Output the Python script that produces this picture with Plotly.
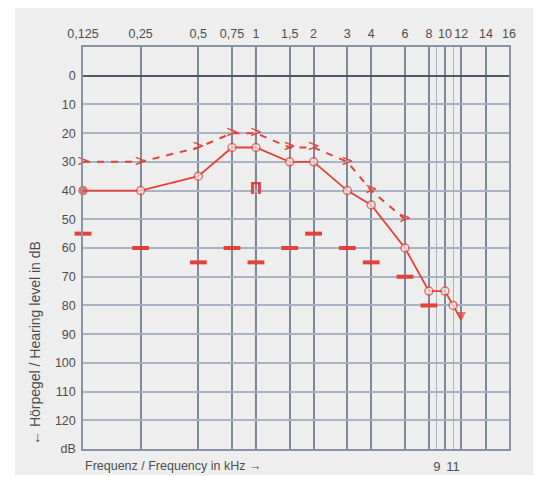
import numpy as np
import plotly.graph_objects as go

# ---------------- data ----------------
freq_ticks = [0.125, 0.25, 0.5, 0.75, 1, 1.5, 2, 3, 4, 6, 8, 10, 12, 14, 16]
freq_tick_text = ["0,125", "0,25", "0,5", "0,75", "1", "1,5", "2", "3", "4", "6",
                  "8", "10", "12", "14", "16"]
freq_ticks_bottom = [9, 11]
freq_tick_text_bottom = ["9", "11"]
db_ticks = list(range(0, 131, 10))
db_tick_text = [str(v) for v in range(0, 121, 10)] + ["dB"]

air_freq = [0.125, 0.25, 0.5, 0.75, 1, 1.5, 2, 3, 4, 6, 8, 10, 11, 12]
air_db = [40, 40, 35, 25, 25, 30, 30, 40, 45, 60, 75, 75, 80, 85]

bone_freq = [0.125, 0.25, 0.5, 0.75, 1, 1.5, 2, 3, 4, 6]
bone_db = [30, 30, 25, 20, 20, 25, 25, 30, 40, 50]

mask_freq = [0.125, 0.25, 0.5, 0.75, 1, 1.5, 2, 3, 4, 6, 8]
mask_db = [55, 60, 65, 60, 65, 60, 55, 60, 65, 70, 80]

extra_freq = [1]
extra_db = [40]

# ---------------- audiogram frequency scale ----------------
# octaves above 125 Hz up to 8 kHz, compressed linear scale above 8 kHz
HF_KNOTS = [8, 12, 14, 16]
HF_POS = [6.0, 6.56, 6.99, 7.39]


def fscale(f):
    f = np.asarray(f, dtype=float)
    return np.where(f <= 8, np.log2(np.maximum(f, 1e-9) / 0.125),
                    np.interp(f, HF_KNOTS, HF_POS))


RED = "#e3423a"
TXT = "#4d4d4d"
FONT = "Liberation Sans"
BG = "#eeeeee"

# page is offset by the 8px body margin
OFF = 8
W, H = 541 - OFF, 477 - OFF
ML, MT = 83 - OFF, 47 - OFF
MR = W - (509 - OFF)
MB = H - (449 - OFF)
PW, PH = W - ML - MR, H - MT - MB


def pxx(px):  # page pixel -> paper x
    return (px - OFF - ML) / PW


def pxy(py):  # page pixel -> paper y
    return (H - MB - (py - OFF)) / PH


fig = go.Figure()

# masking symbols
fig.add_trace(go.Scatter(
    x=fscale(mask_freq), y=mask_db, mode="markers",
    marker=dict(symbol="line-ew", size=12, line=dict(color=RED, width=4)),
    cliponaxis=False, showlegend=False, hoverinfo="skip"))
fig.add_trace(go.Scatter(
    x=fscale(extra_freq), y=extra_db, mode="text", text=["<b>Π</b>"],
    textfont=dict(family="DejaVu Sans", size=15, color=RED),
    cliponaxis=False, showlegend=False, hoverinfo="skip"))

# bone / dashed line with '>' symbols
fig.add_trace(go.Scatter(
    x=fscale(bone_freq), y=bone_db, mode="lines+text", text=[">"] * len(bone_freq),
    textposition="middle center",
    textfont=dict(family="DejaVu Sans", size=15, color=RED),
    line=dict(color=RED, width=2, dash="7px,7px"),
    cliponaxis=False, showlegend=False, hoverinfo="skip"))

# air conduction solid line with circles
symbols = ["circle"] + ["circle"] * (len(air_freq) - 2) + ["arrow-down"]
sizes = [8] * (len(air_freq) - 1) + [7]
fills = [RED] + [BG] * (len(air_freq) - 2) + [RED]
fig.add_trace(go.Scatter(
    x=fscale(air_freq), y=air_db, mode="lines+markers",
    line=dict(color=RED, width=1.8),
    marker=dict(symbol=symbols, size=sizes, color=fills, line=dict(color=RED, width=1.5)),
    cliponaxis=False, showlegend=False, hoverinfo="skip"))

xr = [float(fscale(0.125)), float(fscale(16))]

fig.update_layout(
    width=W, height=H, autosize=False,
    margin=dict(l=ML, r=MR, t=MT, b=MB, pad=0, autoexpand=False),
    paper_bgcolor="white", plot_bgcolor=BG,
    font=dict(family=FONT, size=12, color=TXT),
    xaxis=dict(
        side="top", range=xr, tickvals=fscale(freq_ticks), ticktext=freq_tick_text,
        showgrid=True, gridcolor="#7f889b", gridwidth=1.5, automargin=False,
        zeroline=False, showline=True, mirror=True, linecolor="#8a93a5", linewidth=1.5,
        ticks="", tickfont=dict(size=12.5, color=TXT), ticklabelstandoff=2,
    ),
    xaxis2=dict(
        overlaying="x", side="bottom", range=xr, automargin=False,
        tickvals=fscale(freq_ticks_bottom), ticktext=freq_tick_text_bottom,
        showgrid=True, gridcolor="#a9b2c2", gridwidth=1.2, zeroline=False,
        ticks="", tickfont=dict(size=13, color=TXT), ticklabelstandoff=8,
    ),
    yaxis=dict(
        range=[130, -10], tickvals=db_ticks, ticktext=db_tick_text, automargin=False,
        showgrid=True, gridcolor="#a9b3c4", gridwidth=1.5,
        zeroline=True, zerolinecolor="#4f586b", zerolinewidth=2,
        showline=True, mirror=True, linecolor="#8a93a5", linewidth=1.5,
        ticks="", tickfont=dict(size=12.5, color=TXT), ticklabelstandoff=3,
    ),
    shapes=[
        dict(type="rect", xref="paper", yref="paper", layer="below",
             x0=pxx(15), x1=pxx(537), y0=pxy(475), y1=pxy(8),
             fillcolor=BG, line=dict(width=0)),
        dict(type="line", xref="x", yref="paper", layer="below",
             x0=float(fscale(1)), x1=float(fscale(1)), y0=0, y1=1,
             line=dict(color="#5b6477", width=2)),
    ],
    annotations=[
        dict(text="← Hörpegel / Hearing level in dB", xref="paper", yref="paper",
             x=pxx(35), y=pxy(447), xanchor="center", yanchor="bottom",
             textangle=-90, showarrow=False, font=dict(size=14, color=TXT)),
        dict(text="Frequenz / Frequency in kHz →", xref="paper", yref="paper",
             x=pxx(83), y=pxy(466), xanchor="left", yanchor="middle",
             showarrow=False, font=dict(size=12.5, color=TXT)),
    ],
)

# dummy trace so the secondary axis is drawn
fig.add_trace(go.Scatter(x=[None], y=[None], xaxis="x2", showlegend=False,
                         hoverinfo="skip"))

fig.write_html("out.html")
